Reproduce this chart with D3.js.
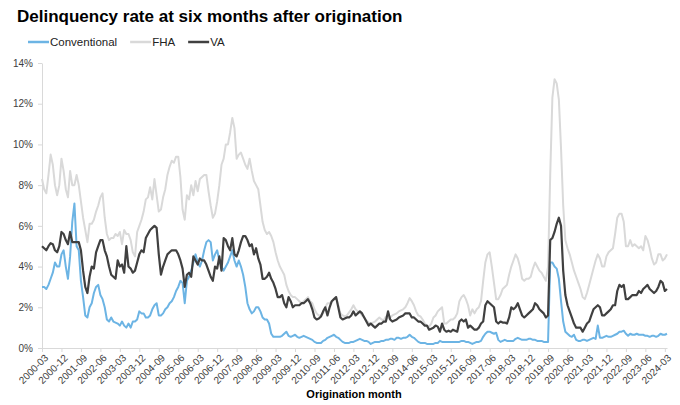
<!DOCTYPE html>
<html>
<head>
<meta charset="utf-8">
<script src="https://cdn.jsdelivr.net/npm/d3@7"></script>
<style>
  body { margin: 0; background: #fff; }
  svg { font-family: "Liberation Sans", Arial, sans-serif; }
</style>
</head>
<body>
<svg id="chart" width="680" height="405"></svg>
<script>
// First origination month in the series (2000-03)
const startMonth = new Date(2000, 2, 1);

// Delinquency rate (%) at six months after origination, monthly from 2000-03
const conventional = [
  3.0, 3.0, 2.9, 3.1, 3.4, 3.7, 4.2, 4.0, 4.0, 4.6,                  // 2000
  4.8, 4.0, 3.4, 4.5, 6.2, 7.1, 5.0, 4.8, 3.3, 2.5, 1.6, 1.5,        // 2001
  2.0, 2.2, 2.7, 3.0, 3.1, 2.6, 2.4, 2.0, 1.4, 1.3, 1.5, 1.3,        // 2002
  1.25, 1.2, 1.1, 1.3, 1.1, 1.0, 1.2, 1.0, 1.3, 1.3, 1.4, 1.8,       // 2003
  1.7, 1.7, 1.5, 1.5, 1.6, 1.9, 2.1, 2.2, 1.6, 1.6, 1.7, 1.9,        // 2004
  2.0, 2.2, 2.3, 2.5, 2.8, 3.0, 3.3, 3.2, 2.2, 3.3, 3.5, 3.8,        // 2005
  4.2, 4.6, 4.2, 4.0, 4.3, 4.8, 5.2, 5.3, 5.2, 4.3, 4.6, 4.8,        // 2006
  4.3, 4.0, 3.8, 4.0, 4.2, 4.5, 4.8, 4.3, 4.0, 4.3, 4.0, 3.6,        // 2007
  3.0, 2.2, 1.9, 1.7, 1.8, 2.0, 2.0, 1.8, 1.5, 1.4, 1.4, 1.2,        // 2008
  0.7, 0.55, 0.55, 0.55, 0.55, 0.6, 0.7, 0.8, 0.6, 0.55, 0.6, 0.65,  // 2009
  0.55, 0.5, 0.55, 0.6, 0.55, 0.5, 0.45, 0.4, 0.3, 0.25, 0.25, 0.25, // 2010
  0.35, 0.4, 0.5, 0.55, 0.6, 0.65, 0.55, 0.5, 0.4, 0.3, 0.25, 0.25,  // 2011
  0.25, 0.3, 0.3, 0.35, 0.4, 0.45, 0.4, 0.35, 0.35, 0.3, 0.2, 0.25,  // 2012
  0.3, 0.3, 0.3, 0.35, 0.35, 0.4, 0.4, 0.45, 0.45, 0.4, 0.5, 0.5,    // 2013
  0.45, 0.5, 0.5, 0.55, 0.65, 0.55, 0.5, 0.4, 0.3, 0.25, 0.25, 0.25, // 2014
  0.2, 0.2, 0.2, 0.2, 0.25, 0.25, 0.35, 0.3, 0.3, 0.3, 0.3, 0.3,     // 2015
  0.3, 0.3, 0.3, 0.3, 0.35, 0.35, 0.3, 0.3, 0.25, 0.2, 0.25, 0.3,    // 2016
  0.3, 0.35, 0.55, 0.7, 0.8, 0.8, 0.75, 0.7, 0.75, 0.4, 0.3, 0.35,   // 2017
  0.4, 0.35, 0.35, 0.35, 0.35, 0.45, 0.5, 0.45, 0.4, 0.4, 0.4, 0.45, // 2018
  0.45, 0.4, 0.4, 0.35, 0.35, 0.35, 0.3, 0.3, 0.3, 4.2, 4.2, 4.0,    // 2019
  3.9, 3.4, 2.3, 1.3, 0.8, 0.7, 0.6, 0.55, 0.65, 0.4, 0.35, 0.35,    // 2020
  0.4, 0.4, 0.35, 0.4, 0.45, 0.5, 0.45, 1.1, 0.5, 0.5, 0.55, 0.6,    // 2021
  0.55, 0.55, 0.6, 0.65, 0.7, 0.8, 0.8, 0.85, 0.7, 0.6, 0.7, 0.65,   // 2022
  0.65, 0.7, 0.65, 0.65, 0.65, 0.6, 0.6, 0.55, 0.6, 0.6, 0.55, 0.6,  // 2023
  0.7, 0.65, 0.65, 0.7                                               // 2024
];

const fha = [
  8.3, 7.8, 7.6, 8.5, 9.5, 9.0, 8.0, 7.5, 8.0, 9.3,                  // 2000
  8.7, 7.8, 7.4, 8.7, 8.0, 8.0, 8.5, 8.0, 7.2, 6.4, 5.8, 5.2,        // 2001
  6.1, 6.1, 6.3, 6.7, 7.0, 7.4, 7.6, 6.4, 5.6, 5.3, 5.4, 5.4,        // 2002
  5.6, 5.5, 5.7, 5.1, 5.8, 5.6, 5.6, 5.3, 4.7, 4.5, 5.7, 6.0,        // 2003
  6.3, 6.7, 7.3, 7.4, 7.9, 7.3, 8.3, 7.5, 6.7, 6.8, 7.4, 7.8,        // 2004
  8.5, 8.9, 9.2, 9.1, 9.4, 9.4, 8.4, 6.8, 6.3, 7.5, 7.3, 8.0,        // 2005
  7.5, 8.2, 7.7, 8.3, 8.4, 8.5, 8.5, 7.7, 7.0, 6.4, 6.6, 7.2,        // 2006
  8.0, 9.0, 9.3, 10.0, 10.0, 10.6, 11.3, 10.8, 9.3, 9.5, 9.6, 9.3,   // 2007
  9.0, 8.8, 9.3, 8.7, 8.2, 8.0, 7.8, 7.0, 6.2, 5.8, 5.6, 5.7,        // 2008
  5.5, 5.2, 4.7, 4.3, 4.0, 3.8, 3.6, 3.1, 2.8, 2.6, 2.5, 2.5,        // 2009
  2.4, 2.3, 2.2, 2.3, 2.4, 2.5, 2.3, 2.2, 1.9, 1.7, 1.6, 1.6,        // 2010
  1.7, 2.0, 2.2, 2.2, 2.3, 2.4, 2.5, 2.1, 1.7, 1.6, 1.55, 1.6,       // 2011
  1.75, 1.9, 2.1, 1.9, 1.8, 1.75, 1.6, 1.5, 1.35, 1.25, 1.2, 1.25,   // 2012
  1.3, 1.4, 1.5, 1.4, 1.35, 1.55, 1.45, 1.5, 1.6, 1.65, 1.7, 1.8,    // 2013
  1.85, 1.9, 2.0, 2.2, 2.45, 2.3, 2.1, 1.8, 1.6, 1.55, 1.4, 1.2,     // 2014
  1.1, 1.05, 1.2, 1.5, 1.6, 1.8, 1.9, 2.0, 1.2, 1.2, 1.3, 1.4,       // 2015
  1.4, 1.5, 1.7, 2.3, 2.5, 2.6, 2.4, 2.1, 1.6, 1.9, 1.7, 1.9,        // 2016
  2.0, 2.3, 3.3, 4.2, 4.6, 4.7, 4.0, 3.2, 2.4, 2.4, 2.6, 2.9,        // 2017
  3.0, 3.1, 3.6, 4.0, 4.3, 4.6, 4.4, 4.0, 3.4, 3.3, 3.4, 3.4,        // 2018
  3.5, 3.9, 4.2, 4.0, 3.8, 3.7, 3.5, 3.3, 4.0, 8.5, 12.3, 13.2,      // 2019
  13.0, 12.2, 9.8, 7.0, 5.3, 4.9, 4.6, 4.2, 3.8, 3.5, 3.2, 2.9,      // 2020
  2.5, 2.4, 2.7, 3.1, 3.5, 3.9, 4.3, 4.6, 4.4, 4.0, 4.0, 4.5,        // 2021
  4.7, 4.8, 4.9, 5.6, 6.4, 6.6, 6.6, 6.2, 5.0, 5.0, 5.3, 5.0,        // 2022
  5.1, 5.0, 4.9, 5.0, 4.8, 5.5, 5.3, 4.9, 4.4, 4.1, 4.2, 4.6,        // 2023
  4.6, 4.3, 4.4, 4.6                                                 // 2024
];

const va = [
  5.0, 4.9, 4.8, 5.0, 5.15, 5.1, 4.8, 4.7, 5.0, 5.7,                 // 2000
  5.6, 5.3, 5.1, 5.7, 5.2, 5.2, 5.2, 5.2, 4.8, 3.8, 3.0, 2.7,        // 2001
  3.5, 4.0, 3.9, 4.7, 5.0, 5.3, 5.3, 4.8, 4.5, 4.0, 3.6, 3.5,        // 2002
  3.4, 4.3, 4.0, 4.1, 3.7, 5.0, 4.0, 3.9, 3.7, 3.8, 4.2, 4.6,        // 2003
  4.8, 4.7, 5.4, 5.6, 5.8, 5.9, 6.0, 5.9, 4.6, 3.6, 4.0, 4.3,        // 2004
  4.6, 4.7, 4.8, 4.8, 4.8, 4.6, 4.3, 3.9, 3.0, 3.6, 3.7, 3.5,        // 2005
  4.5, 4.3, 4.1, 4.4, 4.3, 4.3, 4.1, 3.8, 3.5, 3.3, 4.0, 3.9,        // 2006
  4.5, 3.8, 5.4, 5.3, 5.0, 4.8, 5.4, 4.6, 4.5, 4.8, 5.2, 5.5,        // 2007
  5.5, 5.3, 5.0, 5.1, 4.6, 4.9, 4.4, 4.1, 3.4, 3.4, 3.5, 3.7,        // 2008
  3.4, 3.2, 2.9, 2.5, 2.5, 2.6, 2.2, 2.0, 2.5, 2.3, 2.0, 2.1,        // 2009
  2.1, 2.1, 2.2, 2.2, 2.3, 2.4, 2.2, 1.9, 1.5, 1.4, 1.45, 1.55,      // 2010
  1.8, 2.0, 1.6, 2.0, 2.3, 2.4, 2.5, 2.0, 1.5, 1.4, 1.45, 1.5,       // 2011
  1.5, 1.6, 1.8, 1.6, 1.7, 1.8, 1.7, 1.5, 1.3, 1.1, 1.2, 1.1,        // 2012
  1.0, 1.1, 1.2, 1.2, 1.3, 1.3, 1.8, 1.4, 1.3, 1.35, 1.4, 1.5,       // 2013
  1.55, 1.6, 1.7, 1.7, 1.7, 1.5, 1.5, 1.4, 1.3, 1.3, 1.2, 1.1,       // 2014
  1.1, 0.9, 0.95, 1.0, 1.1, 1.05, 0.8, 1.2, 0.9, 0.8, 0.85, 0.8,     // 2015
  0.9, 0.85, 0.8, 1.3, 1.4, 1.3, 1.4, 1.0, 1.1, 1.0, 0.9, 0.9,       // 2016
  1.0, 1.2, 1.3, 2.1, 2.3, 2.2, 2.1, 2.0, 1.3, 1.2, 1.3, 1.25,       // 2017
  1.25, 1.2, 1.5, 2.0, 1.9, 2.0, 2.2, 1.9, 1.6, 1.5, 1.6, 1.7,       // 2018
  1.8, 1.9, 2.2, 2.1, 1.9, 1.8, 1.7, 1.5, 1.6, 5.3, 5.4, 5.7,        // 2019
  6.1, 6.4, 6.0, 3.8, 2.6, 2.1, 1.8, 1.5, 1.2, 1.0, 1.0, 1.0,        // 2020
  0.8, 1.0, 1.2, 1.3, 1.6, 1.9, 2.0, 2.1, 2.0, 1.6, 1.6, 1.7,        // 2021
  1.8, 1.9, 2.1, 2.1, 2.8, 3.1, 3.0, 3.1, 2.4, 2.4, 2.5, 2.6,        // 2022
  2.6, 2.6, 2.8, 2.7, 2.9, 3.0, 3.1, 2.9, 2.8, 2.7, 2.8, 3.0,        // 2023
  3.3, 3.2, 2.8, 2.9                                                 // 2024
];

const seriesNames = ["Conventional", "FHA", "VA"];
const seriesColors = ["#6cb4e4", "#d9d9d9", "#404040"];
const yTickValues = [0, 2, 4, 6, 8, 10, 12, 14];

// Month labels for the category axis, one per data point
const fmtMonth = d3.timeFormat("%Y-%m");
const months = d3.range(conventional.length).map((i) => fmtMonth(d3.timeMonth.offset(startMonth, i)));
// A label every nine months, as in the original
const tickMonths = months.filter((d, i) => i % 9 === 0);

const svg = d3.select("#chart");

const x = d3.scalePoint()
  .domain(months)
  .range([42, 667]);

const y = d3.scaleLinear()
  .domain([0, 14])
  .range([348, 63]);

// Title
svg.append("text")
  .attr("x", 17)
  .attr("y", 22)
  .attr("font-size", 17)
  .attr("font-weight", "bold")
  .attr("fill", "#000")
  .text("Delinquency rate at six months after origination");

// Y axis
const gy = svg.append("g")
  .attr("transform", "translate(42,0)")
  .call(d3.axisLeft(y)
    .tickValues(yTickValues)
    .tickFormat((d) => d + "%")
    .tickSize(4)
    .tickSizeOuter(0)
    .tickPadding(5));
gy.select(".domain").attr("stroke", "#d9d9d9");
gy.selectAll(".tick line").attr("stroke", "#d9d9d9");
gy.selectAll(".tick text")
  .attr("font-size", 10)
  .attr("font-family", "Liberation Sans, Arial, sans-serif")
  .attr("fill", "#404040");

// X axis
const gx = svg.append("g")
  .attr("transform", "translate(0,348)")
  .call(d3.axisBottom(x)
    .tickValues(tickMonths)
    .tickSize(4)
    .tickSizeOuter(0));
gx.select(".domain").attr("stroke", "#d9d9d9");
gx.selectAll(".tick line").attr("stroke", "#d9d9d9");
gx.selectAll(".tick text")
  .attr("x", 0)
  .attr("y", 0)
  .attr("dy", "0.35em")
  .attr("transform", "translate(4,8) rotate(-45)")
  .attr("text-anchor", "end")
  .attr("font-size", 10)
  .attr("font-family", "Liberation Sans, Arial, sans-serif")
  .attr("fill", "#404040");

// X axis title
svg.append("text")
  .attr("x", 354)
  .attr("y", 398)
  .attr("text-anchor", "middle")
  .attr("font-size", 11)
  .attr("font-weight", "bold")
  .attr("fill", "#000")
  .text("Origination month");

// Lines: FHA drawn first so it sits behind
const line = d3.line()
  .x((d, i) => x(months[i]))
  .y((d) => y(d));

const drawOrder = [
  {values: fha, color: seriesColors[1], width: 2},
  {values: conventional, color: seriesColors[0], width: 2},
  {values: va, color: seriesColors[2], width: 2.2}
];

svg.append("g")
  .selectAll("path")
  .data(drawOrder)
  .enter()
  .append("path")
  .attr("fill", "none")
  .attr("stroke", (d) => d.color)
  .attr("stroke-width", (d) => d.width)
  .attr("stroke-linejoin", "round")
  .attr("d", (d) => line(d.values));

// Legend
const legend = svg.append("g").attr("transform", "translate(28,42)");
let lx = 0;
seriesNames.forEach((name, i) => {
  legend.append("line")
    .attr("x1", lx)
    .attr("x2", lx + 21)
    .attr("y1", 0)
    .attr("y2", 0)
    .attr("stroke", seriesColors[i])
    .attr("stroke-width", 2.5);
  const t = legend.append("text")
    .attr("x", lx + 22)
    .attr("y", 4)
    .attr("font-size", 11.5)
    .attr("fill", "#222")
    .text(name);
  lx += 22 + t.node().getComputedTextLength() + 13;
});
</script>
</body>
</html>
